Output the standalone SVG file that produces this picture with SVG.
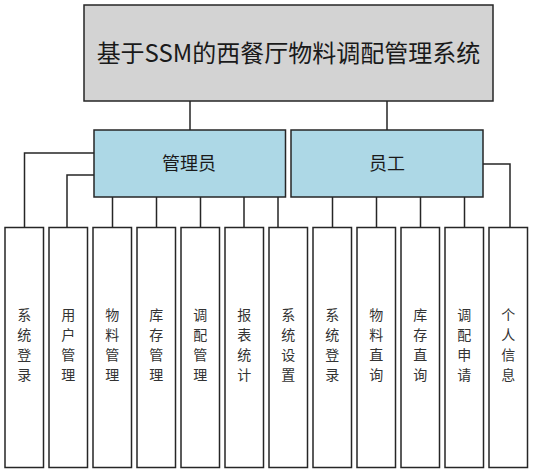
<svg xmlns="http://www.w3.org/2000/svg" width="533" height="473" viewBox="0 0 533 473">
<style>
.box{stroke:#262626;stroke-width:1.5}
.top{fill:#d3d3d3}
.role{fill:#add8e6}
.leaf{fill:#ffffff}
.ln{fill:none;stroke:#262626;stroke-width:1.5}
text{font-family:"Microsoft YaHei","Noto Sans CJK SC",sans-serif;fill:#1a1a1a;text-anchor:middle}
.t0{font-size:24px}
.t1{font-size:18px}
.t2{font-size:14px;fill:#333}
</style>
<rect width="533" height="473" fill="#ffffff"/>
<g id="connectors">
<path class="ln" d="M190,101V130M387,101V130"/>
<path class="ln" d="M94,153H24.5V227.5M94,175H67V227.5"/>
<path class="ln" d="M112.5,197V227.5M156.5,197V227.5M200.5,197V227.5M244,197V227.5M278,197V227.5"/>
<path class="ln" d="M332.5,197V227.5M376.5,197V227.5M420.5,197V227.5M464.5,197V227.5"/>
<path class="ln" d="M483,164H510V227.5"/>
</g>
<g id="root"><rect class="box top" x="84" y="5" width="409" height="96"/><text class="t0" x="288.5" y="61.5">基于SSM的西餐厅物料调配管理系统</text></g>
<g id="admin"><rect class="box role" x="94" y="130" width="191.5" height="67"/><text class="t1" x="189" y="169.5">管理员</text></g>
<g id="staff"><rect class="box role" x="291" y="130" width="192" height="67"/><text class="t1" x="387" y="169.5">员工</text></g>
<g id="n1"><rect class="box leaf" x="5" y="227.5" width="38.5" height="240"/><text class="t2"><tspan x="24.3" y="320">系</tspan><tspan x="24.3" y="340">统</tspan><tspan x="24.3" y="360">登</tspan><tspan x="24.3" y="380">录</tspan></text></g>
<g id="n2"><rect class="box leaf" x="49" y="227.5" width="38.5" height="240"/><text class="t2"><tspan x="68.3" y="320">用</tspan><tspan x="68.3" y="340">户</tspan><tspan x="68.3" y="360">管</tspan><tspan x="68.3" y="380">理</tspan></text></g>
<g id="n3"><rect class="box leaf" x="93" y="227.5" width="38.5" height="240"/><text class="t2"><tspan x="112.3" y="320">物</tspan><tspan x="112.3" y="340">料</tspan><tspan x="112.3" y="360">管</tspan><tspan x="112.3" y="380">理</tspan></text></g>
<g id="n4"><rect class="box leaf" x="137" y="227.5" width="38.5" height="240"/><text class="t2"><tspan x="156.3" y="320">库</tspan><tspan x="156.3" y="340">存</tspan><tspan x="156.3" y="360">管</tspan><tspan x="156.3" y="380">理</tspan></text></g>
<g id="n5"><rect class="box leaf" x="181" y="227.5" width="38.5" height="240"/><text class="t2"><tspan x="200.3" y="320">调</tspan><tspan x="200.3" y="340">配</tspan><tspan x="200.3" y="360">管</tspan><tspan x="200.3" y="380">理</tspan></text></g>
<g id="n6"><rect class="box leaf" x="225" y="227.5" width="38.5" height="240"/><text class="t2"><tspan x="244.3" y="320">报</tspan><tspan x="244.3" y="340">表</tspan><tspan x="244.3" y="360">统</tspan><tspan x="244.3" y="380">计</tspan></text></g>
<g id="n7"><rect class="box leaf" x="269" y="227.5" width="38.5" height="240"/><text class="t2"><tspan x="288.3" y="320">系</tspan><tspan x="288.3" y="340">统</tspan><tspan x="288.3" y="360">设</tspan><tspan x="288.3" y="380">置</tspan></text></g>
<g id="n8"><rect class="box leaf" x="313" y="227.5" width="38.5" height="240"/><text class="t2"><tspan x="332.3" y="320">系</tspan><tspan x="332.3" y="340">统</tspan><tspan x="332.3" y="360">登</tspan><tspan x="332.3" y="380">录</tspan></text></g>
<g id="n9"><rect class="box leaf" x="357" y="227.5" width="38.5" height="240"/><text class="t2"><tspan x="376.3" y="320">物</tspan><tspan x="376.3" y="340">料</tspan><tspan x="376.3" y="360">直</tspan><tspan x="376.3" y="380">询</tspan></text></g>
<g id="n10"><rect class="box leaf" x="401" y="227.5" width="38.5" height="240"/><text class="t2"><tspan x="420.3" y="320">库</tspan><tspan x="420.3" y="340">存</tspan><tspan x="420.3" y="360">直</tspan><tspan x="420.3" y="380">询</tspan></text></g>
<g id="n11"><rect class="box leaf" x="445" y="227.5" width="38.5" height="240"/><text class="t2"><tspan x="464.3" y="320">调</tspan><tspan x="464.3" y="340">配</tspan><tspan x="464.3" y="360">申</tspan><tspan x="464.3" y="380">请</tspan></text></g>
<g id="n12"><rect class="box leaf" x="489" y="227.5" width="38.5" height="240"/><text class="t2"><tspan x="508.3" y="320">个</tspan><tspan x="508.3" y="340">人</tspan><tspan x="508.3" y="360">信</tspan><tspan x="508.3" y="380">息</tspan></text></g>
</svg>
